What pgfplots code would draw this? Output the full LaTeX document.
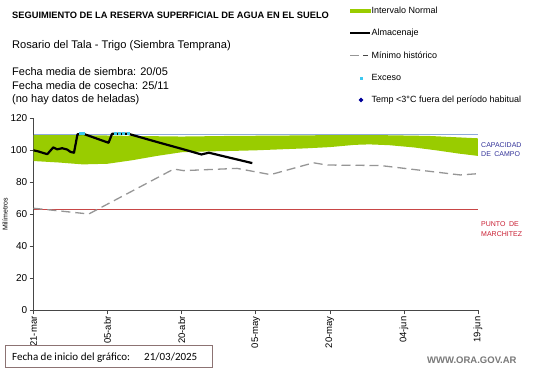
\documentclass[border=0pt]{standalone}
\usepackage{fontspec}
\setmainfont{Liberation Sans}
\newfontfamily\carlito{Carlito}
\usepackage{pgfplots}
\pgfplotsset{compat=1.18}
\definecolor{bandgreen}{RGB}{153,204,0}
\definecolor{capblue}{RGB}{143,170,220}
\definecolor{pmred}{RGB}{200,70,70}
\definecolor{mingray}{RGB}{150,150,150}
\definecolor{excyan}{RGB}{60,200,240}
\definecolor{tempblue}{RGB}{0,0,153}
\definecolor{captext}{RGB}{51,51,153}
\definecolor{pmtext}{RGB}{200,30,50}
\definecolor{axgray}{RGB}{70,70,70}
\definecolor{boxcol}{RGB}{140,115,115}
\definecolor{webgray}{RGB}{120,120,120}
\begin{document}
\begin{tikzpicture}
\useasboundingbox (0pt,0pt) rectangle (541pt,-368pt);
\begin{axis}[
  at={(33.5pt,-310.3pt)}, anchor=south west,
  scale only axis, width=444.5pt, height=192pt,
  xmin=0, xmax=90, ymin=0, ymax=120,
  axis lines=left, axis line style={-, axgray, line width=0.6pt},
  xtick={0,15,30,45,60,75,90},
  xticklabels={21-mar,05-abr,20-abr,05-may,20-may,04-jun,19-jun},
  ytick={0,20,40,60,80,100,120},
  tick align=outside, major tick length=4pt,
  tick style={axgray, line width=0.6pt},
  x tick label style={rotate=90, anchor=east, font=\fontsize{9.5}{10}\selectfont, inner sep=2pt},
  y tick label style={font=\fontsize{10}{12}\selectfont, inner sep=2pt},
  /pgf/number format/assume math mode=true,
  ylabel={Milímetros},
  ylabel style={at={(axis description cs:-0.064,0.5)}, anchor=center, font=\fontsize{7}{8}\selectfont},
  clip=false,
  legend cell align=left,
  legend style={draw=none, fill=none, at={(axis description cs:0.7098,1.585)}, anchor=north west,
    font=\fontsize{9}{10}\selectfont, row sep=12.2pt, inner sep=0pt,
    nodes={inner sep=0.5pt, text height=7pt, text depth=2pt},
    /tikz/every even column/.append style={column sep=2pt}},
]
% Intervalo normal (band)
\addplot[fill=bandgreen, draw=none,
  legend image code/.code={\fill[bandgreen] (0pt,-2pt) rectangle (21pt,2pt);}]
  coordinates {
  (0,109.5) (10,109.5) (20,109) (30,108.6) (40,109) (50,109.2) (60,109.5) (70,109.5) (80,109) (90,107.5)
  (90,96.5) (86,98) (82,99.8) (77,101.8) (72,103.2) (68,103.7) (65,103.4) (60,102) (55,101.2) (50,100.6)
  (45,100) (40,99.6) (35,99.3) (30,98.8) (25,96.5) (20,93.8) (15,91.6) (10,91.2) (5,92.4) (0,93.3)
  } -- cycle;
\addlegendentry{Intervalo Normal}
% Capacidad de campo / punto de marchitez
\addplot[capblue, line width=0.9pt, forget plot] coordinates {(0,110) (90,110)};
\addplot[pmred, line width=0.8pt, forget plot] coordinates {(0,62.8) (90,62.8)};
% Almacenaje
\addplot[black, line width=2.2pt, line join=round,
  legend image code/.code={\draw[black, line width=2pt] (0pt,0pt) -- (20pt,0pt);}]
  coordinates {
  (0,100) (1,99.3) (2,98.3) (2.8,97.6) (4,101.8) (4.8,100.6) (5.8,101.3) (6.8,100.5) (7.5,99) (8.2,98.5)
  (8.9,110) (10.1,110.3) (15.2,104.7) (15.9,110.3) (19.2,110.3) (25,105.2) (29.8,101.1) (34,97.4)
  (35.5,98.5) (44.3,92)
  };
\addlegendentry{Almacenaje}
% Minimo historico
\addplot[mingray, line width=1.3pt, dash pattern=on 9pt off 5pt,
  legend image code/.code={\draw[mingray, line width=1.2pt] (0pt,0pt) -- (10pt,0pt);
     \draw[axgray, line width=0.8pt] (13pt,0pt) -- (18pt,0pt);}]
  coordinates {
  (0,63.8) (11.2,60.2) (28.4,88.3) (30.4,87.3) (41.2,88.7) (48,84.8) (56.7,92.2) (59.4,90.8)
  (70.2,90.5) (86.4,84.6) (90,85.4)
  };
\addlegendentry{Mínimo histórico}
% Exceso
\addplot[only marks, mark=square*, mark size=0.9pt, mark options={excyan, draw=excyan},
  legend image code/.code={\fill[excyan] (9.9pt,-1pt) rectangle (11.9pt,1pt);}]
  coordinates {(9.4,110.5) (10.1,110.5) (16.5,110.5) (17.3,110.5) (18.2,110.5) (19.1,110.5)};
\addlegendentry{Exceso}
\addlegendimage{legend image code/.code={\fill[tempblue] (10.8pt,-2pt) -- (12.8pt,0pt) -- (10.8pt,2pt) -- (8.8pt,0pt) -- cycle;}}
\addlegendentry{Temp <3°C fuera del período habitual}
\end{axis}
% Texts
\node[anchor=base west, inner sep=0pt, font=\bfseries\fontsize{9.3}{10}\selectfont] at (12pt,-18.3pt)
  {SEGUIMIENTO DE LA RESERVA SUPERFICIAL DE AGUA EN EL SUELO};
\node[anchor=base west, inner sep=0pt, font=\fontsize{11.1}{13}\selectfont] at (12pt,-48.5pt)
  {Rosario del Tala - Trigo (Siembra Temprana)};
\node[anchor=base west, inner sep=0pt, font=\fontsize{11}{13}\selectfont] at (12pt,-75.3pt)
  {Fecha media de siembra: 20/05};
\node[anchor=base west, inner sep=0pt, font=\fontsize{11}{13}\selectfont] at (12pt,-89pt)
  {Fecha media de cosecha: 25/11};
\node[anchor=base west, inner sep=0pt, font=\fontsize{11}{13}\selectfont] at (12pt,-102.5pt)
  {(no hay datos de heladas)};
\node[anchor=base west, inner sep=0pt, font=\fontsize{7}{8}\selectfont, text=captext] at (481pt,-147.3pt) {CAPACIDAD};
\node[anchor=base west, inner sep=0pt, font=\fontsize{7}{8}\selectfont, text=captext] at (481pt,-156pt) {DE\enspace CAMPO};
\node[anchor=base west, inner sep=0pt, font=\fontsize{7}{8}\selectfont, text=pmtext] at (481pt,-226.5pt) {PUNTO\enspace DE};
\node[anchor=base west, inner sep=0pt, font=\fontsize{7}{8}\selectfont, text=pmtext] at (481pt,-236pt) {MARCHITEZ};
\draw[boxcol, line width=0.8pt] (5pt,-345pt) rectangle (212pt,-367pt);
\node[anchor=base west, inner sep=0pt, font=\carlito\fontsize{11}{13}\selectfont] at (12pt,-360pt) {Fecha de inicio del gráfico:};
\node[anchor=base west, inner sep=0pt, font=\carlito\fontsize{11}{13}\selectfont] at (144pt,-360pt) {21/03/2025};
\node[anchor=base west, inner sep=0pt, font=\bfseries\fontsize{9.5}{11}\selectfont, text=webgray] at (427pt,-363pt) {WWW.ORA.GOV.AR};
\end{tikzpicture}
\end{document}
